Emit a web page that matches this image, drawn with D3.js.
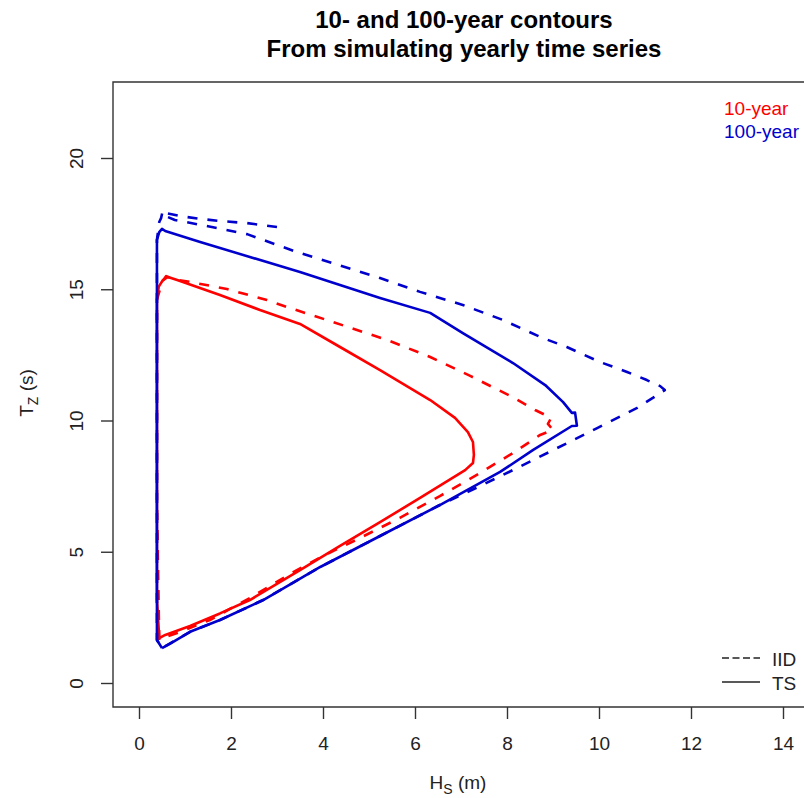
<!DOCTYPE html>
<html>
<head>
<meta charset="utf-8">
<script src="https://cdn.jsdelivr.net/npm/d3@7"></script>
<style>
  body { margin: 0; background: #fff; }
  text { font-family: "Liberation Sans", Arial, sans-serif; }
</style>
</head>
<body>
<div class="contourChart"></div>
<script>
// contour points: [Hs (m), Tz (s)]
var tenYearTS = [[0.44,1.71],[0.39,3.2],[0.39,7.0],[0.39,10.8],[0.39,14.6],[0.43,15.1],[0.52,15.35],
  [0.63,15.47],[0.83,15.35],[1.76,14.78],[2.63,14.21],[3.50,13.68],[4.37,12.80],[5.24,11.92],
  [6.33,10.78],[6.87,10.10],[7.15,9.56],[7.26,9.18],[7.28,8.69],[7.26,8.38],[7.09,8.11],
  [6.11,7.05],[5.24,6.13],[4.37,5.22],[3.50,4.30],[2.41,3.16],[1.76,2.65],[1.11,2.17],
  [0.57,1.83],[0.44,1.71]];

var tenYearIID = [[0.44,1.64],[0.39,6.97],[0.39,14.59],[0.50,15.28],[0.59,15.5],[0.72,15.39],
  [1.11,15.28],[1.91,15.01],[2.78,14.59],[3.22,14.32],[4.15,13.79],[5.39,13.07],[6.33,12.42],
  [7.20,11.70],[8.11,10.90],[8.61,10.40],[8.96,10.10],[8.89,9.87],[9.00,9.64],[8.72,9.45],
  [8.13,8.76],[7.41,8.0],[6.54,7.12],[5.67,6.29],[4.80,5.52],[4.00,4.84],[3.28,4.15],
  [2.41,3.24],[1.54,2.40],[0.89,1.94],[0.50,1.71],[0.44,1.64]];

var hundredYearTS = [[0.50,1.33],[0.39,1.64],[0.39,6.97],[0.39,14.59],[0.39,16.88],[0.44,17.18],
  [0.50,17.30],[0.57,17.22],[1.33,16.80],[2.41,16.23],[3.50,15.66],[4.37,15.16],[5.24,14.67],
  [6.33,14.10],[7.04,13.33],[8.13,12.19],[8.83,11.35],[9.22,10.70],[9.41,10.29],[9.48,10.30],
  [9.52,9.80],[9.41,9.79],[8.57,8.88],[7.85,8.04],[6.54,6.78],[5.24,5.60],[3.94,4.42],
  [2.70,3.16],[1.76,2.40],[1.11,1.95],[0.67,1.49],[0.50,1.33]];

var hundredYearIID = [[3.00,17.37],[2.35,17.52],[1.76,17.60],[1.33,17.68],[0.89,17.79],[0.59,17.90],
  [0.52,18.02],[0.48,17.71],[0.44,17.56],[0.39,16.88],[0.39,6.97],[0.39,1.64],[0.50,1.33],
  [1.11,1.95],[1.76,2.40],[2.70,3.16],[3.94,4.42],[5.24,5.60],[6.54,6.78],[7.41,7.50],
  [8.22,8.19],[9.09,8.95],[9.96,9.71],[10.83,10.48],[11.17,10.86],[11.43,11.16],[11.33,11.31],
  [11.04,11.54],[10.61,11.85],[10.02,12.23],[9.30,12.80],[8.78,13.14],[7.91,13.83],[7.04,14.40],
  [6.11,14.90],[5.24,15.43],[3.43,16.42],[2.35,17.10],[1.70,17.33],[0.78,17.64],[0.52,17.83]];

var xTicks = [0, 2, 4, 6, 8, 10, 12, 14];
var yTicks = [0, 5, 10, 15, 20];
var periodLabels = ["10-year", "100-year"];
var typeLabels = ["IID", "TS"];

plotContours();

function plotContours(){
  var width = 804, height = 798;
  var box = {left: 113, top: 82, bottom: 707};
  var red = "#ff0000", blue = "#0000cd";

  var svg = d3.select(".contourChart")
              .append("svg")
              .attr("width", width)
              .attr("height", height);

  var x = d3.scaleLinear().domain([0, 14]).range([139, 783]);
  var y = d3.scaleLinear().domain([0, 20]).range([683, 158]);

  // title, two lines
  var title = svg.append("text")
                 .attr("text-anchor", "middle")
                 .style("font-size", "24px")
                 .style("font-weight", "bold")
                 .attr("fill", "#000");
  title.append("tspan").attr("x", 464).attr("y", 28).text("10- and 100-year contours");
  title.append("tspan").attr("x", 464).attr("y", 57).text("From simulating yearly time series");

  // R style box: the right side runs off the page
  svg.append("path")
     .attr("d", "M" + width + "," + box.top + "H" + box.left + "V" + box.bottom + "H" + width)
     .attr("fill", "none")
     .attr("stroke", "#333")
     .attr("stroke-width", 1.4);

  var xAxis = svg.append("g")
                 .attr("transform", "translate(0," + box.bottom + ")")
                 .call(d3.axisBottom(x).tickValues(xTicks).tickSize(12).tickPadding(18));
  var yAxis = svg.append("g")
                 .attr("transform", "translate(" + box.left + ",0)")
                 .call(d3.axisLeft(y).tickValues(yTicks).tickSize(12));

  [xAxis, yAxis].forEach(function(a){
    a.select(".domain").remove();
    a.selectAll("line").attr("stroke", "#333").attr("stroke-width", 1.4);
    a.selectAll("text")
     .attr("fill", "#222")
     .style("font-size", "19px")
     .style("font-family", "'Liberation Sans', Arial, sans-serif");
  });

  // y labels are turned, like R's las = 0
  yAxis.selectAll("text")
       .attr("transform", "rotate(-90)")
       .attr("x", 0)
       .attr("y", -30)
       .attr("dy", 0)
       .attr("text-anchor", "middle");

  // axis titles with subscripts
  var xLab = svg.append("text")
                .attr("x", 458).attr("y", 789)
                .attr("text-anchor", "middle")
                .attr("fill", "#222")
                .style("font-size", "19px");
  xLab.append("tspan").text("H");
  xLab.append("tspan").attr("dy", 5).style("font-size", "14px").text("S");
  xLab.append("tspan").attr("dy", -5).text(" (m)");

  var yLab = svg.append("text")
                .attr("transform", "translate(33,393) rotate(-90)")
                .attr("text-anchor", "middle")
                .attr("fill", "#222")
                .style("font-size", "19px");
  yLab.append("tspan").text("T");
  yLab.append("tspan").attr("dy", 5).style("font-size", "14px").text("Z");
  yLab.append("tspan").attr("dy", -5).text(" (s)");

  var line = d3.line()
               .x(function(d){ return x(d[0]); })
               .y(function(d){ return y(d[1]); });

  var series = [
    {data: tenYearTS, color: red, dash: null},
    {data: tenYearIID, color: red, dash: "10,10"},
    {data: hundredYearTS, color: blue, dash: null},
    {data: hundredYearIID, color: blue, dash: "10,10"}
  ];

  svg.selectAll(".contour")
     .data(series)
     .enter()
     .append("path")
     .attr("class", "contour")
     .attr("d", function(d){ return line(d.data); })
     .attr("fill", "none")
     .attr("stroke", function(d){ return d.color; })
     .attr("stroke-width", 2.6)
     .attr("stroke-linejoin", "round")
     .attr("stroke-dasharray", function(d){ return d.dash; });

  // legend, top right: colours
  svg.selectAll(".periodLegend")
     .data(periodLabels)
     .enter()
     .append("text")
     .attr("class", "periodLegend")
     .attr("x", 724)
     .attr("y", function(d, i){ return 115 + i * 23; })
     .attr("fill", function(d, i){ return i == 0 ? red : blue; })
     .style("font-size", "19px")
     .text(function(d){ return d; });

  // legend, bottom right: line types
  var typeLegend = svg.selectAll(".typeLegend")
                      .data(typeLabels)
                      .enter()
                      .append("g")
                      .attr("class", "typeLegend")
                      .attr("transform", function(d, i){ return "translate(0," + (658 + i * 24) + ")"; });
  typeLegend.append("line")
            .attr("x1", 722).attr("x2", 760)
            .attr("stroke", "#222")
            .attr("stroke-width", 1.3)
            .attr("stroke-dasharray", function(d, i){ return i == 0 ? "7,3.5" : null; });
  typeLegend.append("text")
            .attr("x", 772)
            .attr("y", 8)
            .attr("fill", "#222")
            .style("font-size", "19px")
            .text(function(d){ return d; });
}
</script>
</body>
</html>
